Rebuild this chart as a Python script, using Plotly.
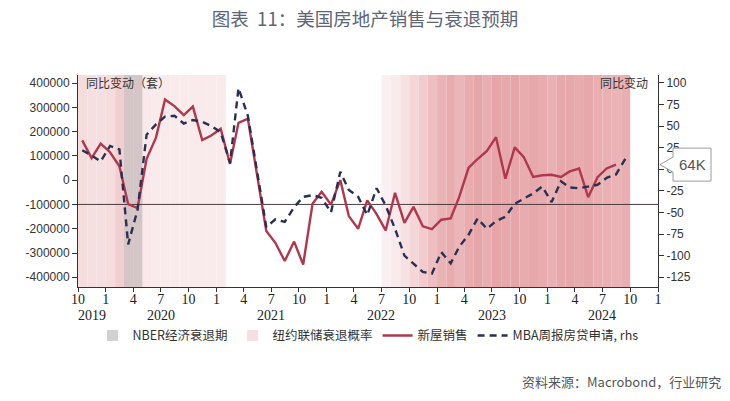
import plotly.graph_objects as go
import pandas as pd

# ---------------- data ----------------
start_month = "2019-10-01"

# New home sales, YoY change (units), Oct 2019 - Aug 2024
new_home_sales = [
    164000, 91000, 150000,
    115000, 57000, -99000, -115000, 88000, 175000, 332000, 305000, 268000, 303000, 165000, 184000,
    212000, 67000, 236000, 253000, 30000, -209000, -258000, -333000, -253000, -348000, -97000, -48000,
    -100000, 0, -148000, -200000, -83000, -140000, -207000, -52000, -176000, -110000, -190000, -202000,
    -163000, -158000, -70000, 50000, 87000, 120000, 177000, 6000, 135000, 95000, 13000, 20000,
    22000, 13000, 36000, 48000, -70000, 12000, 48000, 64000,
]

# MBA weekly purchase applications, YoY % (rhs), Oct 2019 - Sep 2024
mba_apps = [
    22, 16, 9,
    27, 23, -87, -47, 40, 52, 61, 62, 53, 57, 55, 50,
    43, 7, 94, 62, -2, -67, -58, -61, -44, -32, -30, -33,
    -50, -3, -24, -32, -53, -22, -42, -69, -100, -109, -119, -121,
    -96, -109, -90, -76, -57, -69, -60, -55, -40, -34, -28, -20,
    -38, -14, -21, -22, -20, -18, -10, -6, 12,
]

# NY Fed recession probability (shading intensity, %), Oct 2019 - Sep 2024; 0 = not shaded
recession_prob = [
    24, 22, 22,
    24, 34, 30, 30, 15, 14, 14, 14, 14, 14, 14, 14,
    14, 0, 0, 0, 0, 0, 0, 0, 0, 0, 0, 0,
    0, 0, 0, 0, 0, 0, 10, 14, 20, 28, 36, 44,
    52, 58, 50, 58, 62, 56, 62, 60, 62, 58, 60, 58,
    54, 60, 60, 58, 60, 56, 54, 52, 56,
]

# NBER recession months
nber_months = ["2020-03-01", "2020-04-01"]

left_ticks = [400000, 300000, 200000, 100000, 0, -100000, -200000, -300000, -400000]
right_ticks = [100, 75, 50, 25, 0, -25, -50, -75, -100, -125]
x_tick_months = pd.date_range("2019-10-01", "2025-01-01", freq="3MS")
x_tick_text = [str(d.month) for d in x_tick_months]
year_labels = ["2019", "2020", "2021", "2022", "2023", "2024"]
year_label_pos = ["2019-11-15", "2020-07-01", "2021-07-01", "2022-07-01", "2023-07-01", "2024-07-01"]
ref_line_value = -100000

title_text = "图表\u00a0\u00a011：美国房地产销售与衰退预期"
source_text = "资料来源：Macrobond，行业研究"

# ---------------- derived dates ----------------
sales_dates = pd.date_range(start_month, periods=len(new_home_sales), freq="MS") + pd.Timedelta(days=14)
mba_dates = pd.date_range(start_month, periods=len(mba_apps), freq="MS") + pd.Timedelta(days=14)
shade_months = pd.date_range(start_month, periods=len(recession_prob), freq="MS")

CJK = "Noto Sans CJK SC"
RED = "#b0374d"
NAVY = "#2a3150"

def prob_color(p):
    a = p / 100.0
    base = (215, 110, 115)
    r, g, b = [round(255 * (1 - a) + c * a) for c in base]
    return f"rgb({r},{g},{b})"

fig = go.Figure()

# legend-only markers for shading
fig.add_trace(go.Scatter(x=[None], y=[None], mode="markers", name="NBER经济衰退期",
                         marker=dict(symbol="square", size=11, color="#d2d0d0")))
fig.add_trace(go.Scatter(x=[None], y=[None], mode="markers", name="纽约联储衰退概率",
                         marker=dict(symbol="square", size=11, color="#f5dfe0")))

fig.add_trace(go.Scatter(x=sales_dates, y=new_home_sales, mode="lines", name="新屋销售",
                         line=dict(color=RED, width=2.4), yaxis="y"))
fig.add_trace(go.Scatter(x=mba_dates, y=mba_apps, mode="lines", name="MBA周报房贷申请, rhs",
                         line=dict(color=NAVY, width=2.4, dash="7px,5px"), yaxis="y2"))

shapes = []
for d, p in zip(shade_months, recession_prob):
    if p > 0:
        shapes.append(dict(type="rect", xref="x", yref="paper", x0=d, x1=d + pd.offsets.MonthBegin(1),
                           y0=0, y1=1, fillcolor=prob_color(p), line=dict(width=0), layer="below"))
for m in nber_months:
    d = pd.Timestamp(m)
    shapes.append(dict(type="rect", xref="x", yref="paper", x0=d, x1=d + pd.offsets.MonthBegin(1),
                       y0=0, y1=1, fillcolor="#d4c6c7", line=dict(width=0), layer="below"))
shapes.append(dict(type="line", xref="paper", yref="y", x0=0, x1=1, y0=ref_line_value, y1=ref_line_value,
                   line=dict(color="#4a3c3e", width=1), layer="below"))

# callout for latest new home sales value
yr = (-440000, 433000)
plot_h = 212
per_px = (yr[1] - yr[0]) / plot_h
last = new_home_sales[-1]
def px2p(px):
    return (px - 78) / 580.0
bx0, bx1, tip = px2p(673), px2p(711), px2p(660)
bh, nh = 16.5 * per_px, 7.5 * per_px
path = (f"M {bx0},{last + bh} L {bx1},{last + bh} L {bx1},{last - bh} L {bx0},{last - bh} "
        f"L {bx0},{last - nh} L {tip},{last} L {bx0},{last + nh} Z")
shapes.append(dict(type="path", xref="paper", yref="y", path=path, fillcolor="white",
                   line=dict(color="#9a9a9a", width=1), layer="above"))

annotations = [
    dict(text=f"{round(last / 1000)}K", xref="paper", yref="y", x=px2p(692), y=last, showarrow=False,
         font=dict(family="Liberation Sans", size=15, color="#555"), xanchor="center", yanchor="middle"),
    dict(text="同比变动（套）", xref="paper", yref="paper", x=0.01, y=0.965, showarrow=False,
         xanchor="left", yanchor="middle", font=dict(family=CJK, size=12, color="#333")),
    dict(text="同比变动", xref="paper", yref="paper", x=0.987, y=0.965, showarrow=False,
         xanchor="right", yanchor="middle", font=dict(family=CJK, size=12, color="#333")),
    dict(text=source_text, xref="paper", yref="paper", x=px2p(723), y=(287 - 381) / 212, showarrow=False,
         xanchor="right", yanchor="middle", font=dict(family=CJK, size=13, color="#555")),
]
for lab, pos in zip(year_labels, year_label_pos):
    annotations.append(dict(text=lab, xref="x", yref="paper", x=pos, y=(287 - 315) / 212, showarrow=False,
                            xanchor="center", yanchor="middle",
                            font=dict(family="Liberation Serif", size=14, color="#222")))

fig.update_layout(
    width=730, height=401,
    margin=dict(l=78, r=72, t=75, b=114),
    paper_bgcolor="white", plot_bgcolor="white",
    hovermode=False,
    title=dict(text=title_text, x=0.5, xanchor="center", y=1 - 20 / 401, yanchor="middle",
               font=dict(family=CJK, size=18.5, color="#5d6677")),
    showlegend=True,
    legend=dict(orientation="h", x=0.5, xanchor="center", y=-0.16, yanchor="top",
                font=dict(family=CJK, size=12.5, color="#333"), itemwidth=30,
                bgcolor="rgba(0,0,0,0)", traceorder="normal"),
    xaxis=dict(type="date", range=["2019-10-01", "2025-01-01"], tickvals=list(x_tick_months),
               ticktext=x_tick_text, ticks="outside", ticklen=4, tickcolor="#333",
               ticklabelstandoff=-5,
               showline=True, linecolor="#333", linewidth=1, showgrid=False, zeroline=False,
               tickfont=dict(family="Liberation Serif", size=14, color="#222")),
    yaxis=dict(range=list(yr), tickvals=left_ticks, ticktext=[str(v) for v in left_ticks],
               ticks="outside", ticklen=5, tickcolor="#333", showline=True, linecolor="#333",
               showgrid=False, zeroline=False,
               tickfont=dict(family="Liberation Sans", size=12, color="#333")),
    yaxis2=dict(range=[-136.4, 109.2], overlaying="y", side="right", tickvals=right_ticks,
                ticktext=[str(v) for v in right_ticks], ticks="outside", ticklen=5, tickcolor="#333",
                showline=True, linecolor="#333", showgrid=False, zeroline=False,
                tickfont=dict(family="Liberation Sans", size=12, color="#333")),
    shapes=shapes,
    annotations=annotations,
)

fig.write_html("out.html", config={"displayModeBar": False, "staticPlot": True},
               post_script="document.body.style.margin='0';document.body.style.overflow='hidden';")
